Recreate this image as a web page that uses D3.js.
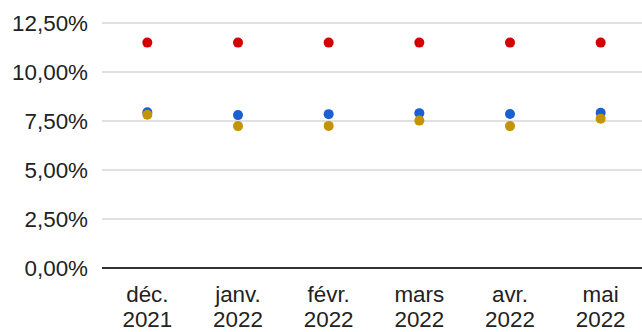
<!DOCTYPE html>
<html>
<head>
<meta charset="utf-8">
<script src="https://cdn.jsdelivr.net/npm/d3@7"></script>
<style>
  body { margin: 0; background: #fff; }
  text { font-family: "Liberation Sans", Arial, sans-serif; fill: #222; }
</style>
</head>
<body>
<svg id="chart" width="642" height="332"></svg>
<script>
// Data
var months = ["déc.|2021", "janv.|2022", "févr.|2022", "mars|2022", "avr.|2022", "mai|2022"];
var redValues = [11.5, 11.5, 11.5, 11.5, 11.5, 11.5];
var blueValues = [7.95, 7.8, 7.85, 7.9, 7.86, 7.92];
var goldValues = [7.82, 7.24, 7.25, 7.52, 7.24, 7.62];
var yTicks = [0, 2.5, 5, 7.5, 10, 12.5];

var margin = {top: 23, right: -4, bottom: 64, left: 102},
    width = 642 - margin.left - margin.right,
    height = 332 - margin.top - margin.bottom;

var svg = d3.select("#chart");
var g = svg.append("g").attr("transform", "translate(" + margin.left + "," + margin.top + ")");

var x = d3.scaleBand().domain(months).range([0, width]);
var y = d3.scaleLinear().domain([0, 12.5]).range([height, 0]);

var fmt = function(v) { return v.toFixed(2).replace(".", ",") + "%"; };

// gridlines
g.selectAll(".grid")
    .data(yTicks.filter(function(d) { return d > 0; }))
    .enter().append("line")
    .attr("x1", 0).attr("x2", width)
    .attr("y1", function(d) { return y(d); })
    .attr("y2", function(d) { return y(d); })
    .attr("stroke", "#d6d6d6")
    .attr("stroke-width", 1.5);

// y labels
g.selectAll(".ylab")
    .data(yTicks)
    .enter().append("text")
    .attr("x", -14)
    .attr("y", function(d) { return y(d); })
    .attr("dy", "0.36em")
    .attr("text-anchor", "end")
    .style("font-size", "22.4px")
    .text(fmt);

// baseline
g.append("line")
    .attr("x1", 0).attr("x2", width)
    .attr("y1", y(0)).attr("y2", y(0))
    .attr("stroke", "#333")
    .attr("stroke-width", 2);

// x labels (two lines), kept just inside the bottom edge
var xl = g.selectAll(".xlab")
    .data(months)
    .enter().append("text")
    .attr("text-anchor", "middle")
    .style("font-size", "22.4px")
    .attr("transform", function(d) { return "translate(" + (x(d) + x.bandwidth() / 2) + "," + (height + 34) + ")"; });
xl.append("tspan").attr("x", 0).attr("y", 0).text(function(d) { return d.split("|")[0]; });
xl.append("tspan").attr("x", 0).attr("y", 25).text(function(d) { return d.split("|")[1]; });

// dots
function drawDots(values, color) {
  g.selectAll(null)
      .data(values)
      .enter().append("circle")
      .attr("cx", function(d, i) { return x(months[i]) + x.bandwidth() / 2; })
      .attr("cy", function(d) { return y(d); })
      .attr("r", 5)
      .attr("fill", color);
}
drawDots(redValues, "#d40000");
drawDots(blueValues, "#1a5fd4");
drawDots(goldValues, "#c49400");
</script>
</body>
</html>
